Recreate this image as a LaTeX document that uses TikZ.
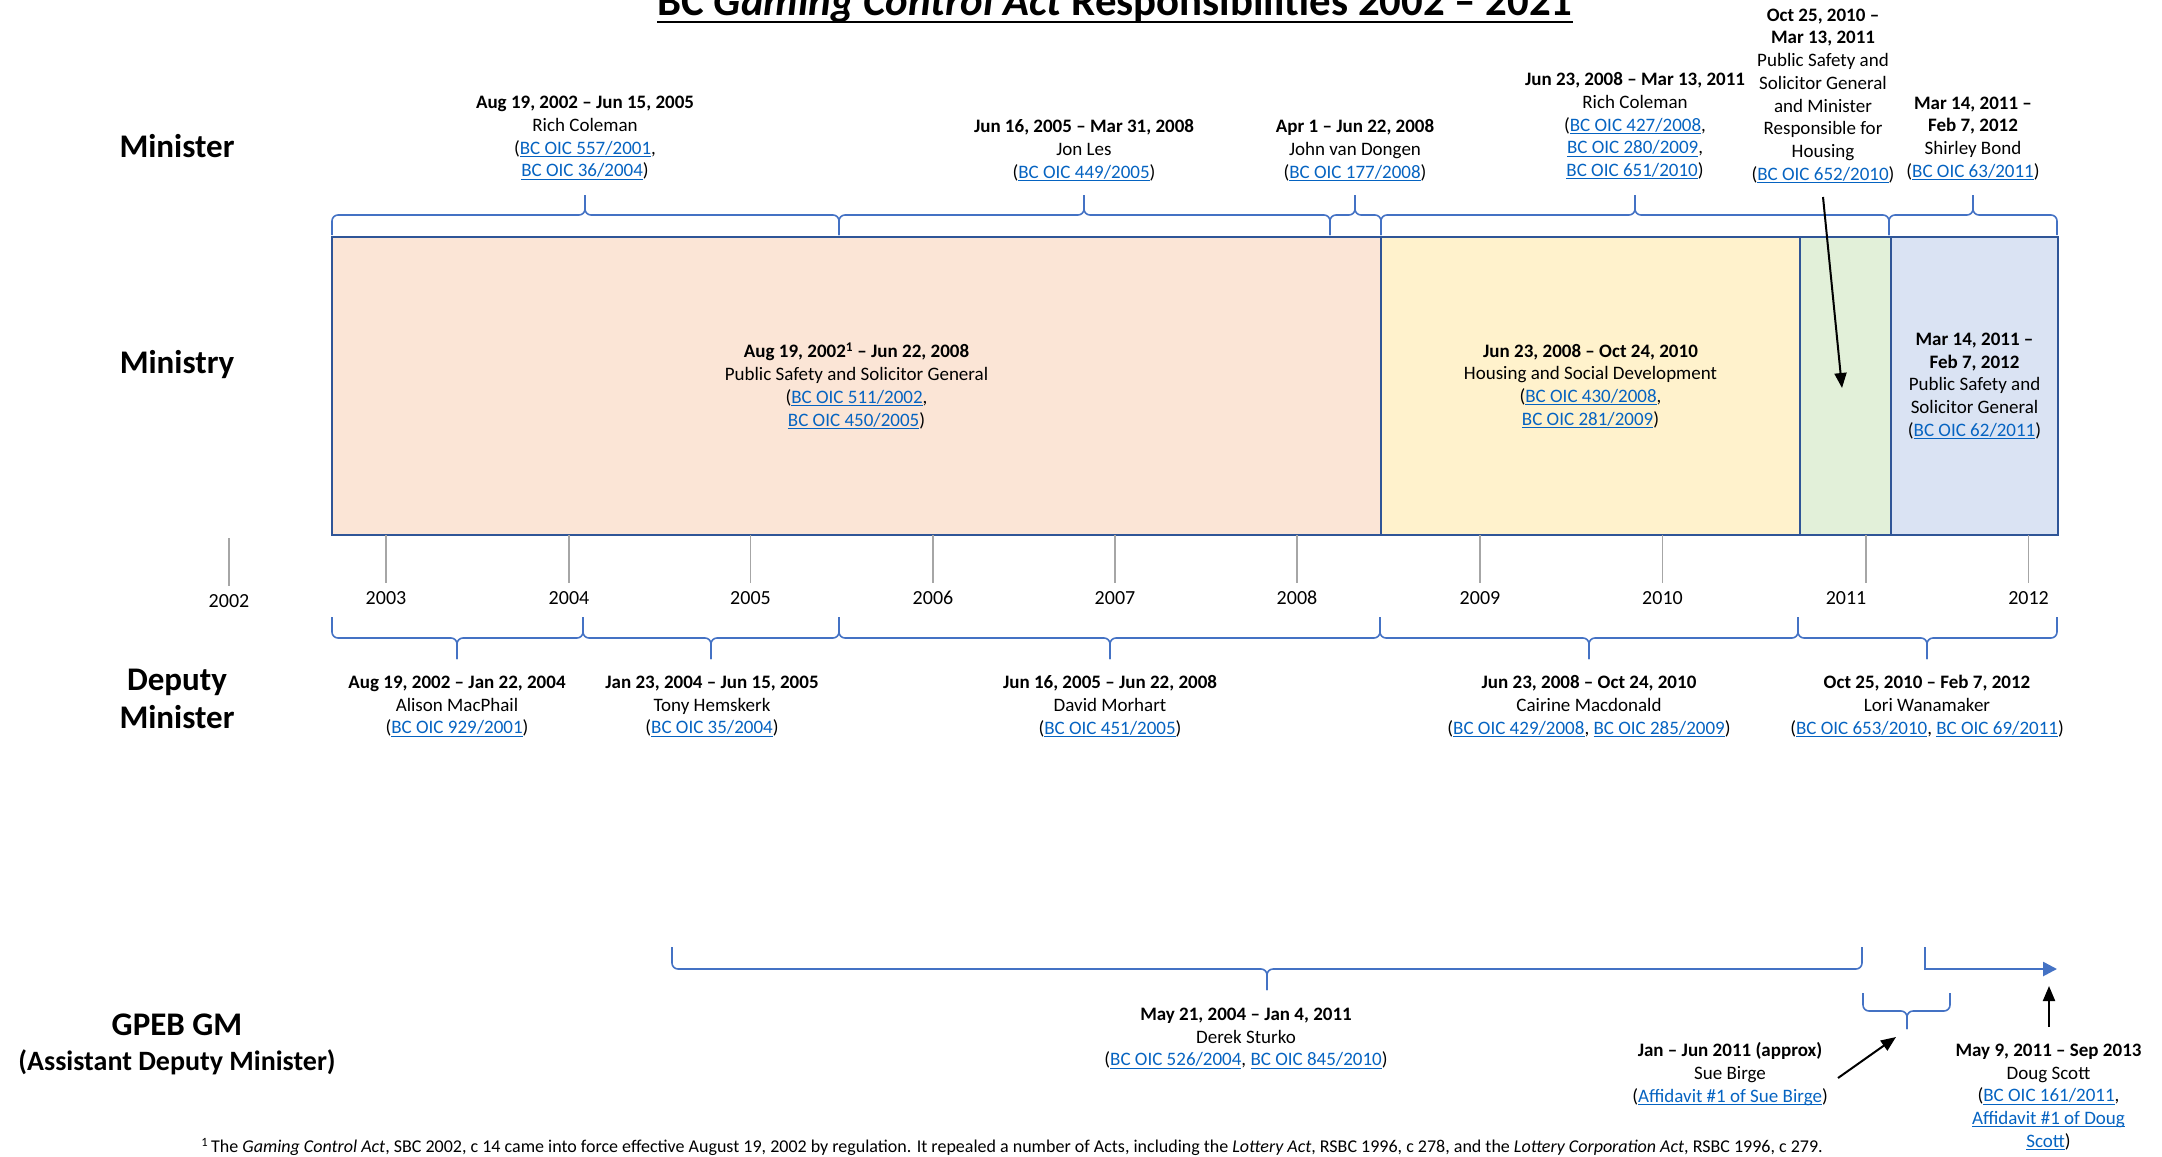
\documentclass[tikz,border=0pt]{standalone}
\usepackage{fontspec}
\setmainfont{Carlito}
\usetikzlibrary{arrows.meta}
\definecolor{linkblue}{HTML}{0563C1}
\definecolor{boxblue}{HTML}{2F5597}
\definecolor{bracecol}{HTML}{4472C4}
\definecolor{tickgray}{HTML}{A6A6A6}
\definecolor{fillpink}{HTML}{FBE5D6}
\definecolor{fillyellow}{HTML}{FFF2CC}
\definecolor{fillgreen}{HTML}{E2F0D9}
\definecolor{fillblue}{HTML}{DAE3F3}
\newcommand{\lk}[1]{\textcolor{linkblue}{\setbox0\hbox{#1}\rlap{\rule[-3pt]{\wd0}{1.1pt}}\box0}}
% Word-style brace: xa, xtip, xb, yend, ymid, ytip
\newcommand{\WBrace}[6]{%
  \draw[brc] (#1,#4) -- (#1,#5) -- (#2,#5) -- (#2,#6);
  \draw[brc] (#2,#6) -- (#2,#5) -- (#3,#5) -- (#3,#4);}
\begin{document}
\begin{tikzpicture}[x=1pt,y=-1pt,
  txt/.style={align=center,inner sep=0pt,font=\fontsize{19}{22.7}\selectfont},
  rowlab/.style={align=center,inner sep=0pt,font=\fontsize{33}{38}\selectfont\bfseries},
  brc/.style={draw=bracecol,line width=1.6pt,rounded corners=6pt},
  yeartick/.style={draw=tickgray,line width=1.2pt},
  yearlab/.style={inner sep=0pt,font=\fontsize{20}{24}\selectfont},
  minbox/.style={draw=boxblue,line width=2.6pt,inner sep=0pt,align=center,font=\fontsize{19}{22.7}\selectfont},
  arr/.style={draw=black,line width=2pt,-{Triangle[length=15pt,width=12pt]}}]
\useasboundingbox (0,0) rectangle (2162,1156);

% title
\node[inner sep=0pt,anchor=base,font=\fontsize{42.8}{50}\selectfont\bfseries] (title) at (1115,16)
  {BC \textit{Gaming Control Act} Responsibilities 2002 – 2021};
\draw[line width=2.6pt] ([yshift=-6pt]title.base west) -- ([yshift=-6pt]title.base east);

% row labels
\node[rowlab] (lminister) at (177,146) {Minister};
\node[rowlab] (lministry) at (177,365) {Ministry};
\node[rowlab] (ldeputy) at (177,699) {Deputy\\Minister};
\node[rowlab] (lgpeb) at (177,1025) {GPEB GM};
\node[inner sep=0pt,font=\fontsize{28}{34}\selectfont\bfseries] (ladm) at (177,1062) {(Assistant Deputy Minister)};

% ministry boxes
\node[minbox,fill=fillpink,minimum width=1049pt,minimum height=298pt] (mypink) at (856.5,386)
  {\textbf{Aug 19, 2002\textsuperscript{1} – Jun 22, 2008}\\Public Safety and Solicitor General\\(\lk{BC OIC 511/2002},\\\lk{BC OIC 450/2005})};
\node[minbox,fill=fillyellow,minimum width=419pt,minimum height=298pt] (myellow) at (1590.5,386)
  {\textbf{Jun 23, 2008 – Oct 24, 2010}\\Housing and Social Development\\(\lk{BC OIC 430/2008},\\\lk{BC OIC 281/2009})};
\node[minbox,fill=fillgreen,minimum width=91pt,minimum height=298pt] (mygreen) at (1845.5,386) {};
\node[minbox,fill=fillblue,minimum width=167pt,minimum height=298pt] (myblue) at (1974.5,386)
  {\textbf{Mar 14, 2011 –}\\\textbf{Feb 7, 2012}\\Public Safety and\\Solicitor General\\(\lk{BC OIC 62/2011})};

% year ticks and labels
\draw[yeartick] (229,538) -- (229,586);
\node[yearlab] (y2002) at (229,601) {2002};
\foreach \yx/\yl/\yn in {386/386/2003,569/569/2004,750.5/750.5/2005,933/933/2006,1115/1115/2007,1297/1297/2008,1480/1480/2009,1662.5/1662.5/2010,1866/1846/2011,2028.5/2028.5/2012}{
  \draw[yeartick] (\yx,535) -- (\yx,583);
  \node[yearlab] (y\yn) at (\yl,598) {\yn};
}

% minister braces
\WBrace{332}{585}{839}{235}{215}{195}
\WBrace{839}{1084}{1330}{235}{215}{195}
\WBrace{1330}{1355}{1381}{235}{215}{195}
\WBrace{1381}{1635}{1889}{235}{215}{195}
\WBrace{1889}{1973}{2057}{235}{215}{195}

% minister texts
\node[txt] (m1) at (585,138) {\textbf{Aug 19, 2002 – Jun 15, 2005}\\Rich Coleman\\(\lk{BC OIC 557/2001},\\\lk{BC OIC 36/2004})};
\node[txt] (m2) at (1084,150.5) {\textbf{Jun 16, 2005 – Mar 31, 2008}\\Jon Les\\(\lk{BC OIC 449/2005})};
\node[txt] (m3) at (1355,150.5) {\textbf{Apr 1 – Jun 22, 2008}\\John van Dongen\\(\lk{BC OIC 177/2008})};
\node[txt] (m4) at (1635,126) {\textbf{Jun 23, 2008 – Mar 13, 2011}\\Rich Coleman\\(\lk{BC OIC 427/2008},\\\lk{BC OIC 280/2009},\\\lk{BC OIC 651/2010})};
\node[txt] (m5) at (1823,96) {\textbf{Oct 25, 2010 –}\\\textbf{Mar 13, 2011}\\Public Safety and\\Solicitor General\\and Minister\\Responsible for\\Housing\\(\lk{BC OIC 652/2010})};
\node[txt] (m6) at (1973,138.5) {\textbf{Mar 14, 2011 –}\\\textbf{Feb 7, 2012}\\Shirley Bond\\(\lk{BC OIC 63/2011})};

% arrow into green box
\coordinate (gA) at (1823,197);
\coordinate (gB) at (1842,388);
\draw[arr] (gA) -- (gB);

% deputy braces
\WBrace{332}{457}{583}{617}{638}{659}
\WBrace{583}{711}{839}{617}{638}{659}
\WBrace{839}{1110}{1380}{617}{638}{659}
\WBrace{1380}{1589}{1798}{617}{638}{659}
\WBrace{1798}{1927}{2057}{617}{638}{659}

% deputy texts
\node[txt] (d1) at (457,706.5) {\textbf{Aug 19, 2002 – Jan 22, 2004}\\Alison MacPhail\\(\lk{BC OIC 929/2001})};
\node[txt] (d2) at (712,706.5) {\textbf{Jan 23, 2004 – Jun 15, 2005}\\Tony Hemskerk\\(\lk{BC OIC 35/2004})};
\node[txt] (d3) at (1110,706.5) {\textbf{Jun 16, 2005 – Jun 22, 2008}\\David Morhart\\(\lk{BC OIC 451/2005})};
\node[txt] (d4) at (1589,706.5) {\textbf{Jun 23, 2008 – Oct 24, 2010}\\Cairine Macdonald\\(\lk{BC OIC 429/2008}, \lk{BC OIC 285/2009})};
\node[txt] (d5) at (1927,706.5) {\textbf{Oct 25, 2010 – Feb 7, 2012}\\Lori Wanamaker\\(\lk{BC OIC 653/2010}, \lk{BC OIC 69/2011})};

% GPEB braces and arrow
\WBrace{672}{1267}{1862}{947}{969}{990}
\WBrace{1863}{1907}{1950}{993}{1011}{1029}
\coordinate (bA) at (1925,947);
\coordinate (bB) at (2057,969);
\draw[draw=bracecol,line width=2.6pt,-{Triangle[length=14pt,width=14pt]}] (bA) |- (bB);

% GPEB texts
\node[txt] (g1) at (1246,1038.5) {\textbf{May 21, 2004 – Jan 4, 2011}\\Derek Sturko\\(\lk{BC OIC 526/2004}, \lk{BC OIC 845/2010})};
\node[txt] (g2) at (1730,1074) {\textbf{Jan – Jun 2011 (approx)}\\Sue Birge\\(\lk{Affidavit \#1 of Sue Birge})};
\node[txt] (g3) at (2048.5,1097) {\textbf{May 9, 2011 – Sep 2013}\\Doug Scott\\(\lk{BC OIC 161/2011},\\\lk{Affidavit \#1 of Doug}\\\lk{Scott})};

\coordinate (sA) at (1838,1078);
\coordinate (sB) at (1896,1037);
\draw[arr] (sA) -- (sB);
\coordinate (dA) at (2049,1027);
\coordinate (dB) at (2049,986);
\draw[arr] (dA) -- (dB);

% footnote
\node[inner sep=0pt,font=\fontsize{18}{21}\selectfont] (fn) at (1012,1147)
  {\textsuperscript{1}\,The \textit{Gaming Control Act}, SBC 2002, c 14 came into force effective August 19, 2002 by regulation. It repealed a number of Acts, including the \textit{Lottery Act}, RSBC 1996, c 278, and the \textit{Lottery Corporation Act}, RSBC 1996, c 279.};
\end{tikzpicture}
\end{document}
